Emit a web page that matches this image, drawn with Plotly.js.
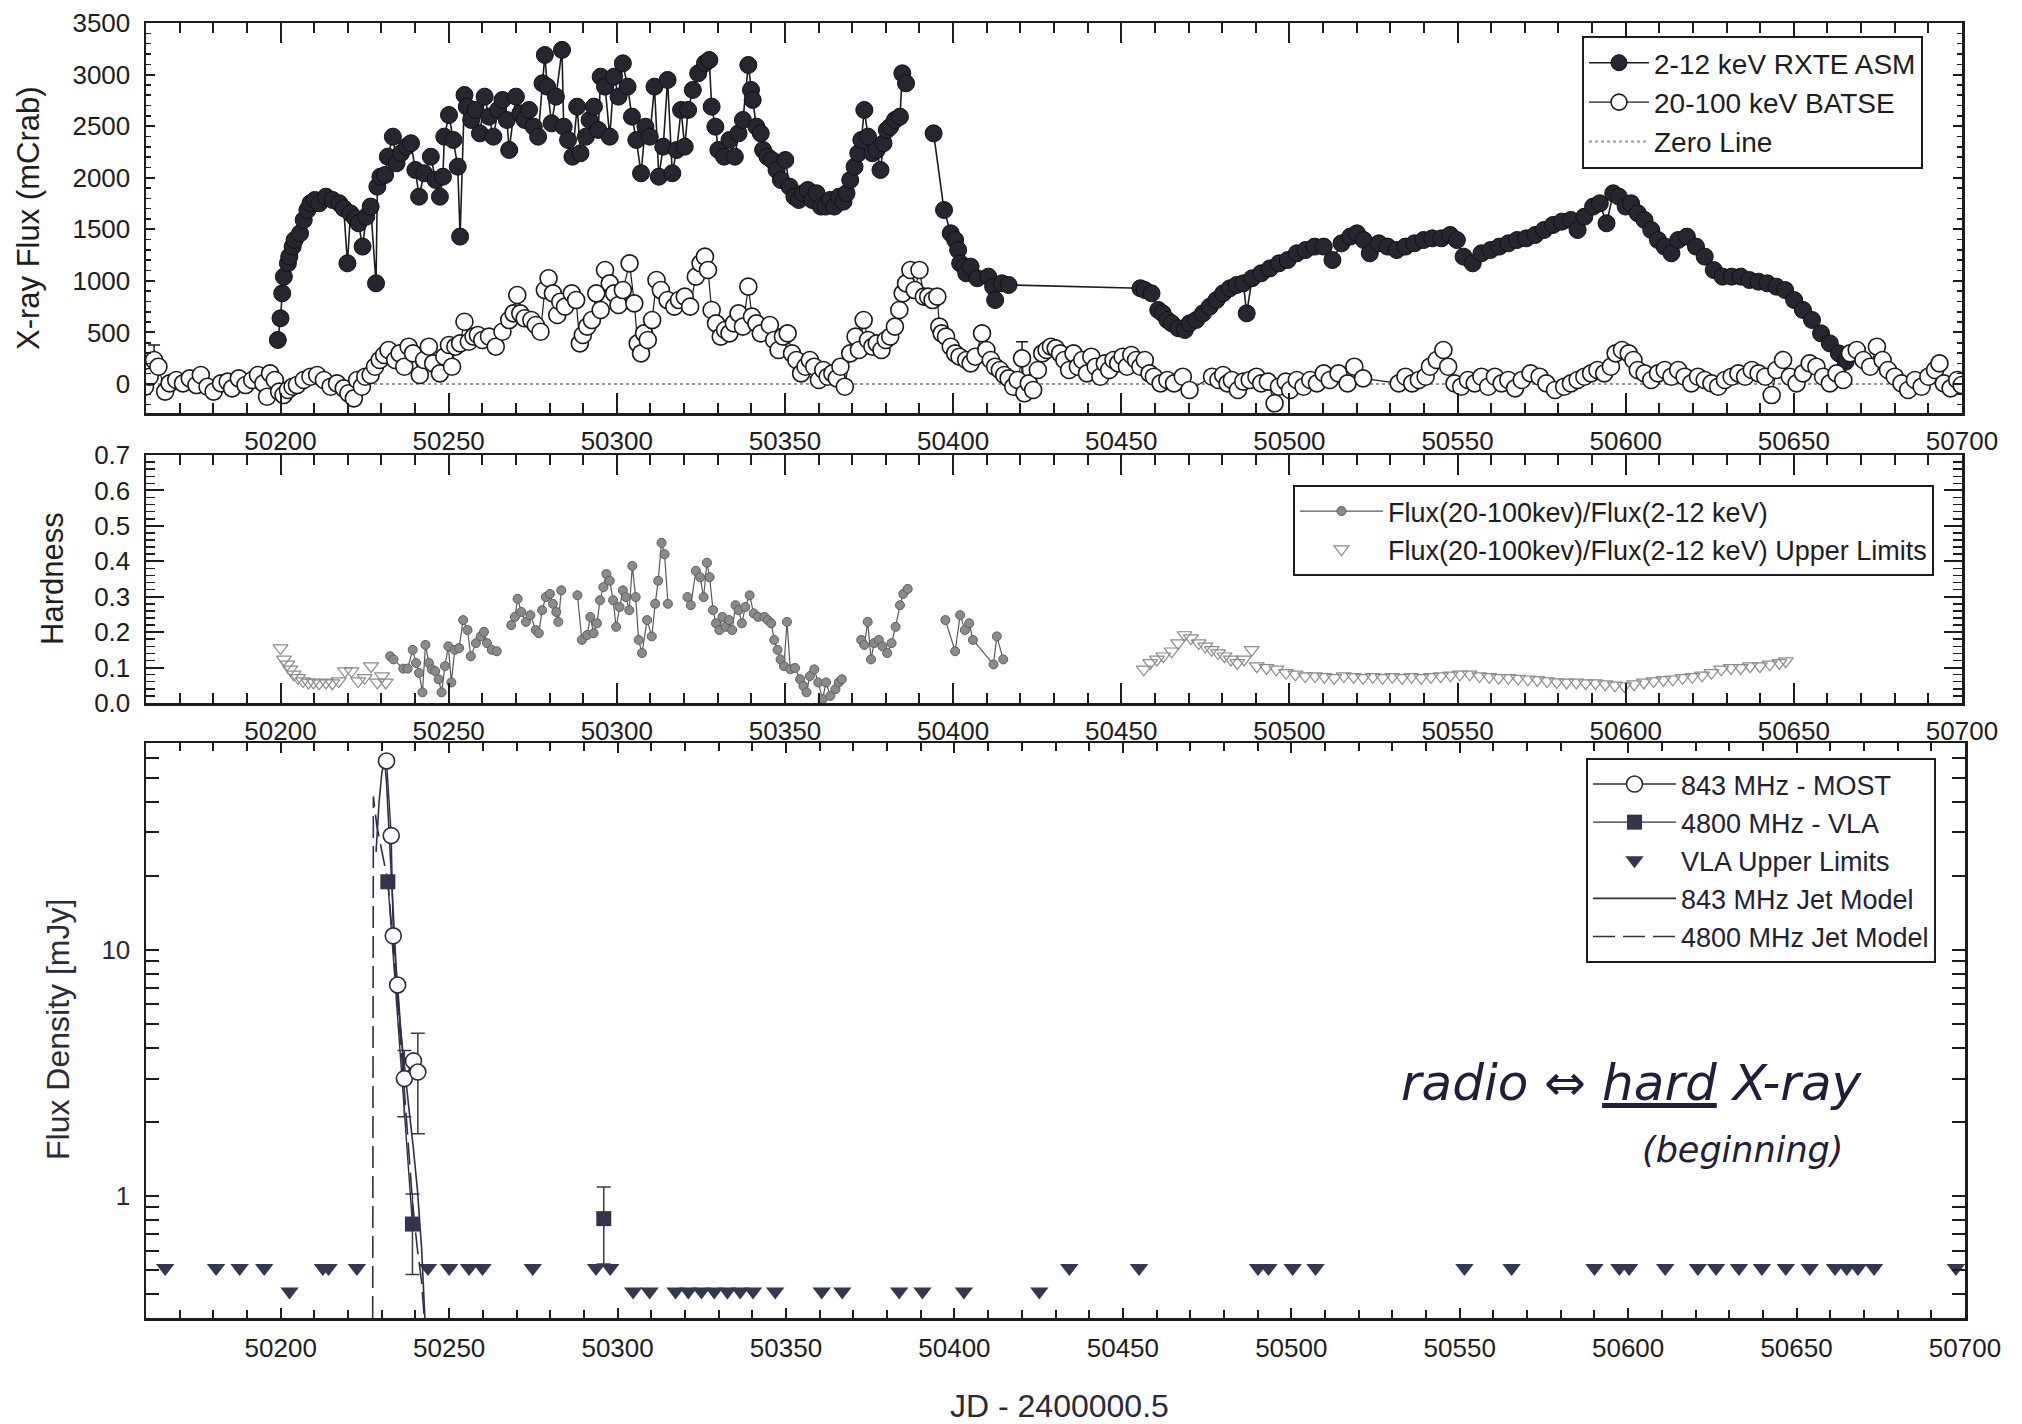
<!DOCTYPE html>
<html>
<head>
<meta charset="utf-8">
<script src="https://cdn.plot.ly/plotly-3.0.1.min.js"></script>
<style>
  html, body { margin: 0; padding: 0; background: #ffffff; }
  #chart { width: 2022px; height: 1424px; }
</style>
</head>
<body>
<div id="chart"></div>
<script>
// ---------- X-ray light curves (mCrab) ----------
const jdRange = [50160, 50700];
const zeroLevel = [0, 0];

// 2-12 keV RXTE ASM daily flux
const asmDay = [
  50199.2, 50200.0, 50200.5, 50201.0, 50202.2, 50202.6, 50203.6, 50204.2, 50205.8, 50206.9,
  50208.0, 50208.9, 50210.2, 50211.5, 50213.5, 50215.5, 50217.5, 50218.8, 50219.9, 50220.8,
  50222.2, 50223.2, 50224.4, 50225.5, 50226.8, 50228.4, 50228.8, 50229.7, 50231.1, 50231.9,
  50233.4, 50234.5, 50235.8, 50237.4, 50238.8, 50240.1, 50241.2, 50242.7, 50244.7, 50246.1,
  50247.4, 50248.3, 50248.7, 50250.1, 50251.4, 50252.7, 50253.4, 50254.7, 50255.4, 50256.7,
  50258.0, 50259.3, 50260.7, 50262.0, 50263.3, 50264.7, 50266.0, 50267.3, 50268.0, 50270.0,
  50271.3, 50272.6, 50273.9, 50275.3, 50276.6, 50277.9, 50278.6, 50279.3, 50280.6, 50281.9,
  50283.7, 50284.2, 50285.5, 50286.8, 50288.2, 50289.2, 50290.8, 50291.9, 50293.2, 50294.5,
  50295.2, 50296.5, 50297.9, 50299.2, 50300.5, 50301.8, 50303.2, 50304.5, 50305.8, 50307.2,
  50308.5, 50309.8, 50311.2, 50312.5, 50313.8, 50315.1, 50316.5, 50317.8, 50319.1, 50320.2,
  50321.2, 50322.6, 50324.2, 50326.2, 50327.5, 50328.2, 50329.3, 50330.2, 50331.9, 50333.5,
  50335.1, 50336.2, 50337.5, 50339.1, 50339.9, 50340.4, 50341.5, 50342.8, 50343.5, 50344.8,
  50346.1, 50347.5, 50348.8, 50350.1, 50351.4, 50352.8, 50354.1, 50355.4, 50356.8, 50358.1,
  50359.4, 50360.7, 50362.1, 50363.4, 50364.7, 50366.1, 50367.4, 50368.3, 50369.4, 50370.7,
  50371.8, 50372.7, 50373.6, 50374.7, 50376.0, 50377.3, 50378.4, 50379.3, 50380.3, 50381.3,
  50382.7, 50384.2, 50384.9, 50386.0, 50390.0, 50394.2, 50397.3, 50399.3, 50400.6, 50401.5,
  50402.1, 50403.3, 50403.9, 50405.2, 50407.2, 50410.5, 50411.9, 50412.5, 50414.5, 50416.5,
  50455.7, 50457.0, 50459.0, 50461.0, 50462.3, 50463.7, 50465.0, 50467.0, 50468.9, 50470.3,
  50472.3, 50474.3, 50476.3, 50478.3, 50480.3, 50482.3, 50484.3, 50486.3, 50487.3, 50488.9,
  50491.6, 50494.2, 50496.9, 50499.5, 50502.2, 50504.8, 50507.5, 50510.2, 50512.8, 50515.5,
  50518.1, 50520.1, 50522.1, 50523.9, 50526.6, 50529.2, 50531.9, 50534.5, 50537.2, 50539.9,
  50542.5, 50545.2, 50547.8, 50549.8, 50551.8, 50554.5, 50557.1, 50559.8, 50562.4, 50565.1,
  50567.7, 50570.4, 50573.1, 50575.7, 50578.4, 50581.0, 50583.7, 50585.7, 50587.7, 50590.3,
  50592.3, 50594.3, 50596.3, 50598.0, 50600.0, 50601.6, 50603.6, 50605.6, 50607.6, 50609.6,
  50611.6, 50613.6, 50615.6, 50618.2, 50620.9, 50623.5, 50626.2, 50628.8, 50631.5, 50634.2,
  50636.8, 50639.5, 50642.1, 50644.8, 50647.4, 50650.1, 50652.7, 50655.4, 50658.1, 50660.7,
  50663.4, 50665.4
];
const asmFlux = [
  427, 637, 879, 1041, 1170, 1235, 1332, 1396, 1461, 1590,
  1687, 1752, 1784, 1752, 1816, 1784, 1752, 1703, 1170, 1655,
  1606, 1558, 1332, 1622, 1720, 976, 1913, 2010, 2026, 2204,
  2398, 2140, 2237, 2301, 2334, 2075, 1816, 2043, 2204, 1978,
  1816, 2010, 2398, 2608, 2366, 2107, 1429, 2802, 2689, 2560,
  2657, 2430, 2786, 2592, 2398, 2657, 2754, 2560, 2269, 2786,
  2624, 2560, 2657, 2495, 2398, 2915, 3190, 2883, 2527, 2786,
  3239, 2495, 2366, 2204, 2689, 2237, 2398, 2560, 2689, 2463,
  2980, 2883, 2398, 2980, 2786, 3109, 2883, 2592, 2366, 2043,
  2495, 2398, 2883, 2010, 2301, 2948, 2043, 2269, 2657, 2301,
  2657, 2851, 3012, 3109, 3141, 2689, 2495, 2269, 2204, 2366,
  2204, 2430, 2560, 3093, 2851, 2754, 2495, 2430, 2269, 2204,
  2172, 2075, 1978, 2172, 1913, 1816, 1784, 1849, 1881, 1784,
  1849, 1720, 1720, 1784, 1720, 1816, 1768, 1849, 1978, 2107,
  2237, 2366, 2657, 2398, 2237, 2269, 2075, 2334, 2463, 2495,
  2560, 2592, 3012, 2915, null, 2430, 1687, 1461, 1396, 1299,
  1170, 1138, 1073, 1138, 1025, 1041, 944, 814, 976, 960,
  928, 911, 879, 718, 685, 621, 588, 540, 524, 588,
  621, 685, 750, 814, 879, 928, 960, 976, 685, 1025,
  1073, 1121, 1170, 1202, 1267, 1299, 1332, 1332, 1202, 1364,
  1429, 1461, 1396, 1267, 1364, 1332, 1299, 1332, 1364, 1396,
  1412, 1412, 1445, 1396, 1235, 1170, 1267, 1299, 1332, 1364,
  1396, 1412, 1445, 1493, 1542, 1574, 1590, 1493, 1622, 1720,
  1752, 1558, 1849, 1816, 1720, 1752, 1655, 1590, 1493, 1396,
  1332, 1267, 1396, 1429, 1332, 1235, 1105, 1041, 1041, 1041,
  1008, 992, 976, 944, 911, 814, 718, 621, 491, 394,
  297, 217
];

// 20-100 keV BATSE flux
const batseDay = [
  50159.7, 50161.1, 50162.4, 50163.7, 50165.7, 50167.0, 50169.0, 50171.0, 50173.0, 50175.0,
  50176.3, 50178.3, 50180.1, 50182.3, 50184.3, 50185.6, 50187.6, 50189.6, 50191.6, 50193.3,
  50194.9, 50196.0, 50196.9, 50198.3, 50199.6, 50200.9, 50202.2, 50203.6, 50204.9, 50206.9,
  50208.9, 50210.9, 50212.9, 50214.9, 50216.8, 50218.8, 50220.2, 50221.8, 50222.8, 50224.2,
  50225.2, 50226.8, 50228.1, 50229.5, 50230.8, 50232.1, 50234.1, 50235.4, 50236.8, 50238.1,
  50239.4, 50241.4, 50242.7, 50244.1, 50245.4, 50247.4, 50248.7, 50250.1, 50251.0, 50252.0,
  50253.4, 50254.7, 50256.0, 50257.4, 50258.7, 50260.0, 50262.0, 50264.0, 50266.0, 50268.0,
  50269.3, 50270.4, 50271.3, 50272.6, 50274.6, 50275.9, 50277.3, 50278.6, 50279.7, 50281.0,
  50282.3, 50283.2, 50284.6, 50286.6, 50287.9, 50289.0, 50289.9, 50291.2, 50292.6, 50293.9,
  50295.2, 50296.5, 50297.9, 50299.2, 50300.5, 50301.8, 50303.8, 50305.2, 50306.2, 50307.2,
  50308.1, 50309.2, 50310.5, 50311.8, 50313.1, 50315.1, 50317.1, 50318.5, 50320.2, 50321.8,
  50323.5, 50324.9, 50326.2, 50327.1, 50328.2, 50329.5, 50330.9, 50332.2, 50333.5, 50334.8,
  50336.2, 50337.5, 50339.1, 50340.2, 50341.5, 50342.8, 50345.5, 50346.8, 50348.1, 50349.4,
  50350.8, 50352.1, 50353.4, 50354.8, 50356.1, 50357.4, 50358.7, 50360.1, 50361.4, 50362.7,
  50364.1, 50365.4, 50366.5, 50367.8, 50369.4, 50371.0, 50372.0, 50373.4, 50374.7, 50376.0,
  50377.3, 50378.7, 50380.0, 50381.3, 50382.7, 50384.0, 50385.0, 50386.0, 50387.3, 50388.6,
  50390.0, 50391.3, 50392.6, 50393.9, 50395.3, 50395.9, 50396.6, 50397.9, 50399.3, 50400.6,
  50401.9, 50403.9, 50405.2, 50406.6, 50408.6, 50409.9, 50411.2, 50412.5, 50413.9, 50415.2,
  50416.5, 50417.9, 50419.2, 50420.5, 50421.2, 50422.5, 50423.8, 50425.2, 50426.5, 50427.8,
  50429.1, 50430.5, 50431.8, 50433.1, 50434.5, 50435.8, 50437.1, 50438.4, 50439.8, 50441.1,
  50442.4, 50443.8, 50445.1, 50446.4, 50447.7, 50449.1, 50450.4, 50451.7, 50453.0, 50454.4,
  50455.7, 50457.0, 50458.4, 50459.7, 50461.7, 50463.7, 50465.7, 50468.3, 50470.3, 50477.0,
  50478.9, 50480.3, 50481.6, 50482.9, 50484.7, 50486.3, 50488.2, 50490.2, 50491.6, 50493.6,
  50495.6, 50496.9, 50498.9, 50500.2, 50502.2, 50504.2, 50506.2, 50508.2, 50510.2, 50512.0,
  50514.6, 50517.3, 50519.3, 50521.9, 50532.5, 50534.5, 50536.5, 50538.5, 50540.5, 50541.8,
  50543.8, 50545.8, 50547.2, 50549.1, 50551.1, 50553.1, 50555.1, 50557.1, 50559.1, 50561.1,
  50563.1, 50565.1, 50567.1, 50569.1, 50571.7, 50574.4, 50576.4, 50579.0, 50581.7, 50583.7,
  50585.7, 50587.7, 50589.7, 50591.6, 50593.6, 50595.6, 50597.0, 50598.9, 50600.9, 50602.3,
  50603.6, 50605.6, 50607.6, 50609.6, 50611.6, 50613.6, 50615.6, 50617.5, 50619.5, 50621.5,
  50623.5, 50625.5, 50627.5, 50629.5, 50631.5, 50633.5, 50635.5, 50637.5, 50639.5, 50641.5,
  50643.4, 50644.8, 50646.8, 50648.8, 50650.8, 50652.7, 50654.7, 50656.7, 50658.7, 50660.7,
  50662.7, 50664.7, 50666.7, 50668.7, 50670.7, 50672.7, 50674.7, 50676.4, 50678.0, 50680.0,
  50682.0, 50684.0, 50686.0, 50688.0, 50690.0, 50692.0, 50693.3, 50694.6, 50696.6, 50698.6,
  50699.9
];
const batseFlux = [
  -26, 71, 233, 168, -74, 6, 39, 6, 55, -10,
  87, -26, -74, 6, 23, -42, 55, -10, 39, 87,
  6, -123, 103, 39, -74, -107, -58, -26, -10, 39,
  71, 87, 39, -26, 6, -42, -90, -139, 39, -26,
  71, 87, 168, 233, 281, 330, 233, 297, 168, 362,
  297, 87, 233, 362, 200, 103, 265, 378, 168, 362,
  394, 604, 410, 459, 475, 427, 459, 362, 507, 620,
  685, 863, 685, 637, 620, 572, 507, 911, 1025, 879,
  669, 798, 750, 879, 814, 394, 475, 556, 620, 879,
  718, 1105, 976, 879, 766, 911, 1170, 782, 394, 297,
  491, 427, 620, 1008, 911, 814, 750, 814, 847, 750,
  1041, 1170, 1235, 1105, 718, 588, 459, 524, 491, 588,
  685, 556, 944, 653, 588, 491, 572, 427, 330, 459,
  491, 297, 233, 103, 168, 233, 168, 39, 136, 71,
  103, 55, 168, -26, 297, 459, 330, 620, 427, 362,
  394, 330, 427, 459, 556, 718, 879, 976, 1105, 911,
  1105, 847, 847, 814, 847, 556, 491, 459, 362, 297,
  265, 233, 200, 265, 491, 330, 233, 168, 136, 87,
  55, -26, 39, 249, -90, 6, -58, 136, 297, 330,
  362, 346, 297, 233, 136, 297, 168, 233, 103, 265,
  168, 71, 200, 136, 233, 200, 265, 168, 281, 233,
  168, 233, 103, 71, 6, 39, 6, 71, -58, 71,
  39, 87, 6, 39, -58, 23, 39, 71, 6, 23,
  -187, -26, 23, -58, 39, -26, 39, 6, 103, 39,
  103, 6, 168, 55, 6, 71, 6, 39, 71, 168,
  233, 330, 168, 6, -26, 39, 6, 71, -26, 71,
  6, 39, -42, 39, 103, 71, 6, -58, -26, 6,
  39, 71, 103, 136, 103, 168, 297, 330, 297, 233,
  136, 103, 39, 103, 136, 71, 136, 71, 6, 71,
  39, 6, -26, 39, 71, 103, 71, 136, 103, 71,
  -107, 136, 233, 71, 6, 103, 200, 168, 71, 6,
  103, 39, 297, 330, 233, 168, 362, 233, 136, 71,
  6, -58, 39, -26, 71, 136, 200, 6, -42, 39,
  -10
];
// BATSE points carrying error bars
const batseErrDay = [50162.4, 50420.5];
const batseErrFlux = [233, 249];
const batseErrUp = [145, 161];
const batseErrDown = [145, 339];

// ---------- Hardness ratio ----------
const hrDay = [
  50232.6, 50233.6, 50236.5, 50237.8, 50239.3, 50240.3, 50241.2, 50242.2, 50243.1, 50244.1,
  50245.0, 50246.0, 50247.0, 50247.9, 50248.9, 50249.9, 50250.8, 50251.8, 50253.1, 50254.3,
  50255.6, 50256.6, 50258.1, 50259.5, 50260.5, 50261.4, 50262.8, 50264.3, 50266.5, 50268.6,
  50269.7, 50270.5, 50271.6, 50273.0, 50274.3, 50275.9, 50276.8, 50277.8, 50278.9, 50280.1,
  50281.0, 50282.0, 50282.6, 50283.5, 50286.0, 50288.3, 50289.6, 50291.2, 50292.1, 50293.1,
  50294.1, 50295.0, 50296.0, 50296.9, 50297.9, 50298.9, 50299.8, 50300.8, 50301.8, 50302.7,
  50303.7, 50304.6, 50305.6, 50306.5, 50307.5, 50309.0, 50310.4, 50311.4, 50312.3, 50313.3,
  50314.2, 50315.2, 50318.0, 50321.0, 50322.0, 50323.5, 50324.8, 50325.8, 50326.8, 50327.6,
  50328.6, 50329.5, 50330.5, 50331.4, 50332.4, 50333.4, 50334.3, 50335.3, 50336.2, 50337.2,
  50338.2, 50339.5, 50340.7, 50342.0, 50343.9, 50344.9, 50345.9, 50346.8, 50347.8, 50348.7,
  50349.7, 50350.6, 50351.6, 50353.0, 50354.5, 50355.5, 50356.4, 50357.4, 50358.7, 50359.9,
  50361.2, 50362.2, 50363.5, 50365.0, 50366.0, 50366.9, 50370.0, 50372.7, 50373.6, 50374.6,
  50375.6, 50376.5, 50377.9, 50379.0, 50380.4, 50381.7, 50382.9, 50384.2, 50385.2, 50386.5,
  50392.0, 50397.7, 50400.6, 50402.1, 50403.5, 50404.8, 50405.9, 50412.0, 50413.0, 50414.9
];
const hrVal = [
  0.132, 0.123, 0.097, 0.097, 0.150, 0.113, 0.085, 0.030, 0.164, 0.113,
  0.095, 0.090, 0.067, 0.030, 0.104, 0.160, 0.058, 0.150, 0.155, 0.234,
  0.206, 0.132, 0.169, 0.188, 0.201, 0.169, 0.150, 0.146, null, 0.220,
  0.243, 0.294, 0.257, 0.229, 0.248, 0.206, 0.197, 0.262, 0.299, 0.308,
  0.280, 0.257, 0.229, 0.318, null, 0.304, 0.178, 0.192, 0.243, 0.197,
  0.225, 0.290, 0.327, 0.364, 0.345, 0.290, 0.215, 0.271, 0.318, 0.299,
  0.262, 0.387, 0.299, 0.178, 0.141, 0.234, 0.188, 0.280, 0.345, 0.452,
  0.420, 0.280, null, 0.299, 0.276, 0.373, 0.355, 0.299, 0.396, 0.355,
  0.262, 0.225, 0.206, 0.243, 0.215, 0.234, 0.206, 0.276, 0.262, 0.225,
  0.271, 0.304, 0.253, 0.243, 0.243, 0.234, 0.225, 0.178, 0.150, 0.123,
  0.104, 0.229, 0.095, 0.099, 0.067, 0.048, 0.030, 0.076, 0.095, 0.058,
  0.011, 0.058, 0.020, 0.039, 0.058, 0.067, null, 0.178, 0.164, 0.229,
  0.123, 0.169, 0.178, 0.160, 0.141, 0.169, 0.215, 0.276, 0.308, 0.322,
  null, 0.234, 0.146, 0.248, 0.206, 0.225, 0.178, 0.109, 0.188, 0.123
];
// Hardness upper limits
const hrUlDay = [
  50200.0, 50201.0, 50202.0, 50202.9, 50203.9, 50205.2, 50206.7, 50208.3, 50209.8, 50211.5,
  50213.5, 50215.4, 50217.3, 50219.2, 50221.1, 50223.1, 50225.0, 50226.9, 50228.8, 50230.2,
  50231.3, 50456.7, 50458.6, 50460.6, 50462.5, 50465.0, 50466.9, 50468.8, 50470.7, 50473.0,
  50475.0, 50476.9, 50478.8, 50480.7, 50482.6, 50484.5, 50486.5, 50488.8, 50490.3, 50493.2,
  50496.1, 50499.0, 50501.8, 50504.7, 50507.6, 50510.4, 50513.3, 50516.2, 50519.1, 50521.9,
  50524.8, 50527.7, 50530.6, 50533.5, 50536.3, 50539.2, 50542.1, 50545.0, 50547.9, 50550.7,
  50553.6, 50556.5, 50559.4, 50562.2, 50565.1, 50568.0, 50570.9, 50573.7, 50576.6, 50579.5,
  50582.4, 50585.3, 50588.1, 50591.0, 50593.9, 50596.8, 50599.6, 50602.5, 50605.4, 50608.3,
  50611.2, 50614.0, 50616.9, 50619.8, 50622.7, 50625.5, 50628.4, 50631.3, 50634.2, 50637.0,
  50639.9, 50642.8, 50645.7, 50647.6
];
const hrUlVal = [
  0.155, 0.123, 0.109, 0.095, 0.081, 0.071, 0.062, 0.058, 0.058, 0.056,
  0.058, 0.056, 0.062, 0.090, 0.090, 0.062, 0.071, 0.104, 0.058, 0.076,
  0.058, 0.095, 0.113, 0.123, 0.132, 0.146, 0.169, 0.192, 0.183, 0.169,
  0.160, 0.150, 0.141, 0.132, 0.123, 0.113, 0.123, 0.150, 0.104, 0.099,
  0.095, 0.085, 0.081, 0.076, 0.076, 0.074, 0.071, 0.076, 0.074, 0.071,
  0.074, 0.071, 0.074, 0.071, 0.074, 0.071, 0.074, 0.076, 0.078, 0.081,
  0.081, 0.076, 0.074, 0.071, 0.071, 0.069, 0.067, 0.065, 0.062, 0.059,
  0.058, 0.058, 0.056, 0.056, 0.053, 0.050, 0.048, 0.053, 0.058, 0.062,
  0.065, 0.067, 0.071, 0.074, 0.078, 0.085, 0.095, 0.099, 0.099, 0.104,
  0.104, 0.109, 0.113, 0.118
];

// ---------- Radio (mJy) ----------
const mostDay = [50231.4, 50232.8, 50233.4, 50234.7, 50236.7, 50239.4, 50240.7];
const mostFlux = [58.5, 29.1, 11.4, 7.2, 3.0, 3.54, 3.19];
const mostErrUp = [0, 0, 0, 0, 0.9, 0, 1.4];
const mostErrDown = [0, 0, 0, 0, 0.9, 0, 1.4];

const vlaDay = [50231.8, 50239.1, 50267.0, 50295.9];
const vlaFlux = [18.9, 0.77, null, 0.81];
const vlaErrUp = [0, 0.25, 0, 0.28];
const vlaErrDown = [0, 0.29, 0, 0.28];

const vlaUlDay = [
  50165.7, 50180.8, 50187.8, 50195.1, 50202.6, 50212.5, 50214.2, 50222.6, 50243.7, 50250.0,
  50255.9, 50259.9, 50274.8, 50293.6, 50297.8, 50304.6, 50309.5, 50317.2, 50321.0, 50324.9,
  50328.7, 50332.6, 50336.4, 50340.2, 50346.8, 50360.6, 50366.7, 50383.6, 50390.5, 50402.8,
  50425.2, 50434.1, 50454.8, 50490.1, 50493.2, 50500.4, 50507.2, 50551.4, 50565.4, 50590.0,
  50597.4, 50600.3, 50611.0, 50620.7, 50626.1, 50632.9, 50639.7, 50646.8, 50653.9, 50661.4,
  50664.9, 50668.2, 50673.0, 50697.3
];
const vlaUlFlux = [
  0.51, 0.51, 0.51, 0.51, 0.41, 0.51, 0.51, 0.51, 0.51, 0.51,
  0.51, 0.51, 0.51, 0.51, 0.51, 0.41, 0.41, 0.41, 0.41, 0.41,
  0.41, 0.41, 0.41, 0.41, 0.41, 0.41, 0.41, 0.41, 0.41, 0.41,
  0.41, 0.51, 0.51, 0.51, 0.51, 0.51, 0.51, 0.51, 0.51, 0.51,
  0.51, 0.51, 0.51, 0.51, 0.51, 0.51, 0.51, 0.51, 0.51, 0.51,
  0.51, 0.51, 0.51, 0.51
];

const jet843Day = [50228.3, 50229.2, 50230.0, 50230.8, 50231.4, 50232.4, 50233.4, 50234.5, 50235.4,
                   50236.7, 50238.0, 50239.3, 50240.6, 50241.8, 50242.8];
const jet843Flux = [25, 40, 52, 60, 48, 26, 13, 7.3, 5.0, 3.3, 2.3, 1.6, 1.05, 0.62, 0.32];
const jet4800Day = [50227.3, 50227.5, 50228.5, 50229.8, 50231.8, 50233.0, 50234.5, 50236.0, 50237.5,
                    50239.1, 50240.5, 50241.8, 50242.6];
const jet4800Flux = [0.32, 42, 32, 26, 19, 12, 6.8, 3.6, 1.9, 0.95, 0.62, 0.45, 0.32];

// ---------- tick labels ----------
const radioTickVals = [0.4, 0.5, 0.6, 0.7, 0.8, 0.9, 1, 2, 3, 4, 5, 6, 7, 8, 9, 10, 20, 30, 40, 50, 60];
const radioTickText = ['', '', '', '', '', '', '1', '', '', '', '', '', '', '', '', '10', '', '', '', '', ''];
const hardTickVals = [0, 0.1, 0.2, 0.3, 0.4, 0.5, 0.6, 0.7];
const hardTickText = ['0.0', '0.1', '0.2', '0.3', '0.4', '0.5', '0.6', '0.7'];

// ---------- page geometry ----------
const W = 2022, H = 1424;
const fx = p => p / W;
const fy = p => 1 - p / H;
const FONT = 'Liberation Sans, Arial, Helvetica, sans-serif';
const INK = '#1d1d1d';
const NAVY = '#2f3048';

function timeAxis(right, anchor, major, minor, standoff) {
  return {
    domain: [fx(146), fx(right)],
    range: jdRange,
    anchor: anchor,
    type: 'linear',
    tickmode: 'linear', tick0: 50200, dtick: 50,
    tickformat: 'd',
    ticks: 'inside', ticklen: major, tickwidth: 2, tickcolor: INK,
    minor: { dtick: 10, tick0: 50160, ticks: 'inside', ticklen: minor, tickwidth: 2, tickcolor: INK },
    mirror: 'ticks', showline: true, linecolor: INK, linewidth: 2.5,
    showgrid: false, zeroline: false,
    tickfont: { family: FONT, size: 26, color: INK },
    ticklabelstandoff: standoff,
    automargin: false
  };
}

function legendBox(left, top, size, itemW, color) {
  return {
    x: fx(left), y: fy(top), xanchor: 'left', yanchor: 'top',
    bgcolor: '#ffffff', bordercolor: INK, borderwidth: 2,
    font: { family: FONT, size: size, color: color }, itemwidth: itemW, tracegroupgap: 0
  };
}

function sideTitle(text, x, y, size, color) {
  return { text: text, x: fx(x), y: fy(y), xref: 'paper', yref: 'paper',
           xanchor: 'center', yanchor: 'middle', textangle: -90, showarrow: false,
           font: { family: FONT, size: size, color: color } };
}

const layout = {
  width: W, height: H,
  margin: { l: 0, r: 0, t: 0, b: 0, pad: 0 },
  paper_bgcolor: '#ffffff', plot_bgcolor: '#ffffff',
  font: { family: FONT, color: INK, size: 26 },
  showlegend: true,
  xaxis: timeAxis(1962, 'y', 20, 10, 3),
  yaxis: {
    domain: [fy(413), fy(23)], range: [-281, 3500], anchor: 'x',
    tickmode: 'linear', tick0: 0, dtick: 500, tickformat: 'd',
    ticks: 'inside', ticklen: 9, tickwidth: 2, tickcolor: INK,
    minor: { dtick: 100, ticks: 'inside', ticklen: 5, tickwidth: 1.5, tickcolor: INK },
    mirror: 'ticks', showline: true, linecolor: INK, linewidth: 2.5,
    showgrid: false, zeroline: false,
    tickfont: { family: FONT, size: 26, color: INK },
    ticklabelstandoff: 8, automargin: false
  },
  xaxis2: timeAxis(1962, 'y2', 20, 10, 3),
  yaxis2: {
    domain: [fy(703), fy(455)], range: [0, 0.7], anchor: 'x2',
    tickmode: 'array', tickvals: hardTickVals, ticktext: hardTickText,
    ticks: 'inside', ticklen: 18, tickwidth: 2, tickcolor: INK,
    minor: { dtick: 0.02, ticks: 'inside', ticklen: 9, tickwidth: 1.5, tickcolor: INK },
    mirror: 'ticks', showline: true, linecolor: INK, linewidth: 2.5,
    showgrid: false, zeroline: false,
    tickfont: { family: FONT, size: 26, color: INK },
    ticklabelstandoff: 8, automargin: false
  },
  xaxis3: timeAxis(1965, 'y3', 10, 8, 5),
  yaxis3: {
    domain: [fy(1318), fy(743)], type: 'log', range: [-0.495, 1.84], anchor: 'x3',
    tickmode: 'array', tickvals: radioTickVals, ticktext: radioTickText,
    ticks: 'inside', ticklen: 13, tickwidth: 2, tickcolor: INK,
    mirror: 'ticks', showline: true, linecolor: INK, linewidth: 2.5,
    showgrid: false, zeroline: false,
    tickfont: { family: FONT, size: 26, color: '#2a2a38' },
    ticklabelstandoff: 8, automargin: false
  },
  legend: legendBox(1582, 36, 28, 60, INK),
  legend2: legendBox(1293, 485, 27, 83, INK),
  legend3: legendBox(1586, 758, 27, 83, '#222233'),
  annotations: [
    sideTitle('X-ray Flux (mCrab)', 29, 218, 31, INK),
    sideTitle('Hardness', 52, 579, 31, INK),
    sideTitle('Flux Density [mJy]', 58, 1030, 32, '#2a2a38'),
    { text: 'JD - 2400000.5', x: fx(1059), y: fy(1406), xref: 'paper', yref: 'paper',
      xanchor: 'center', yanchor: 'middle', showarrow: false,
      font: { family: FONT, size: 32, color: '#2a2a38' } },
    { text: 'radio \u21D4 <u>hard</u> X-ray', x: fx(1632), y: fy(1083), xref: 'paper', yref: 'paper',
      xanchor: 'center', yanchor: 'middle', showarrow: false,
      font: { family: 'DejaVu Sans', size: 50, color: '#1f2038', style: 'italic' } },
    { text: '(beginning)', x: fx(1743), y: fy(1150), xref: 'paper', yref: 'paper',
      xanchor: 'center', yanchor: 'middle', showarrow: false,
      font: { family: 'DejaVu Sans', size: 35, color: '#1f2038', style: 'italic' } }
  ]
};

const traces = [
  // top panel
  { name: 'Zero Line', x: jdRange, y: zeroLevel, xaxis: 'x', yaxis: 'y', legend: 'legend', legendrank: 3,
    mode: 'lines', line: { color: '#9a9a9a', width: 2, dash: 'dot' }, hoverinfo: 'skip' },
  { name: '2-12 keV RXTE ASM', x: asmDay, y: asmFlux, xaxis: 'x', yaxis: 'y', legend: 'legend', legendrank: 1,
    mode: 'lines+markers', connectgaps: false,
    line: { color: INK, width: 1.6 },
    marker: { symbol: 'circle', size: 17, color: '#262630', line: { color: '#111', width: 1 } } },
  { name: 'BATSE errors', x: batseErrDay, y: batseErrFlux, xaxis: 'x', yaxis: 'y', showlegend: false,
    mode: 'markers', marker: { size: 1, opacity: 0 },
    error_y: { type: 'data', symmetric: false, array: batseErrUp, arrayminus: batseErrDown,
               color: INK, thickness: 1.5, width: 6 } },
  { name: '20-100 keV BATSE', x: batseDay, y: batseFlux, xaxis: 'x', yaxis: 'y', legend: 'legend', legendrank: 2,
    mode: 'lines+markers',
    line: { color: INK, width: 1.2 },
    marker: { symbol: 'circle', size: 17, color: '#ffffff', line: { color: '#1a1a1a', width: 1.6 } } },

  // middle panel
  { name: 'Flux(20-100kev)/Flux(2-12 keV)', x: hrDay, y: hrVal, xaxis: 'x2', yaxis: 'y2', legend: 'legend2',
    mode: 'lines+markers', connectgaps: false,
    line: { color: '#5a5a5a', width: 1.2 },
    marker: { symbol: 'circle', size: 9, color: '#8a8a8a', line: { color: '#5e5e5e', width: 1 } } },
  { name: 'Flux(20-100kev)/Flux(2-12 keV) Upper Limits', x: hrUlDay, y: hrUlVal, xaxis: 'x2', yaxis: 'y2',
    legend: 'legend2', mode: 'markers',
    marker: { symbol: 'triangle-down-open', size: 13, color: '#8c8c8c', line: { color: '#8c8c8c', width: 1.2 } } },

  // bottom panel
  { name: 'VLA Upper Limits', x: vlaUlDay, y: vlaUlFlux, xaxis: 'x3', yaxis: 'y3', legend: 'legend3', legendrank: 3,
    mode: 'markers', marker: { symbol: 'triangle-down', size: 16, color: '#35364f' } },
  { name: '843 MHz Jet Model', x: jet843Day, y: jet843Flux, xaxis: 'x3', yaxis: 'y3', legend: 'legend3', legendrank: 4,
    mode: 'lines', line: { color: NAVY, width: 1.6 } },
  { name: '4800 MHz Jet Model', x: jet4800Day, y: jet4800Flux, xaxis: 'x3', yaxis: 'y3', legend: 'legend3', legendrank: 5,
    mode: 'lines', line: { color: NAVY, width: 1.6, dash: '22px,8px' } },
  { name: '4800 MHz - VLA', x: vlaDay, y: vlaFlux, xaxis: 'x3', yaxis: 'y3', legend: 'legend3', legendrank: 2,
    mode: 'lines+markers', connectgaps: false,
    line: { color: NAVY, width: 1.4 },
    marker: { symbol: 'square', size: 15, color: '#33344c' },
    error_y: { type: 'data', symmetric: false, array: vlaErrUp, arrayminus: vlaErrDown,
               color: '#3a3a50', thickness: 1.5, width: 7 } },
  { name: '843 MHz - MOST', x: mostDay, y: mostFlux, xaxis: 'x3', yaxis: 'y3', legend: 'legend3', legendrank: 1,
    mode: 'lines+markers',
    line: { color: NAVY, width: 1.4 },
    marker: { symbol: 'circle', size: 16, color: '#ffffff', line: { color: '#2a2a3e', width: 1.6 } },
    error_y: { type: 'data', symmetric: false, array: mostErrUp, arrayminus: mostErrDown,
               color: '#3a3a50', thickness: 1.5, width: 7 } }
];

Plotly.newPlot('chart', traces, layout, { staticPlot: true, displayModeBar: false });
</script>
</body>
</html>
